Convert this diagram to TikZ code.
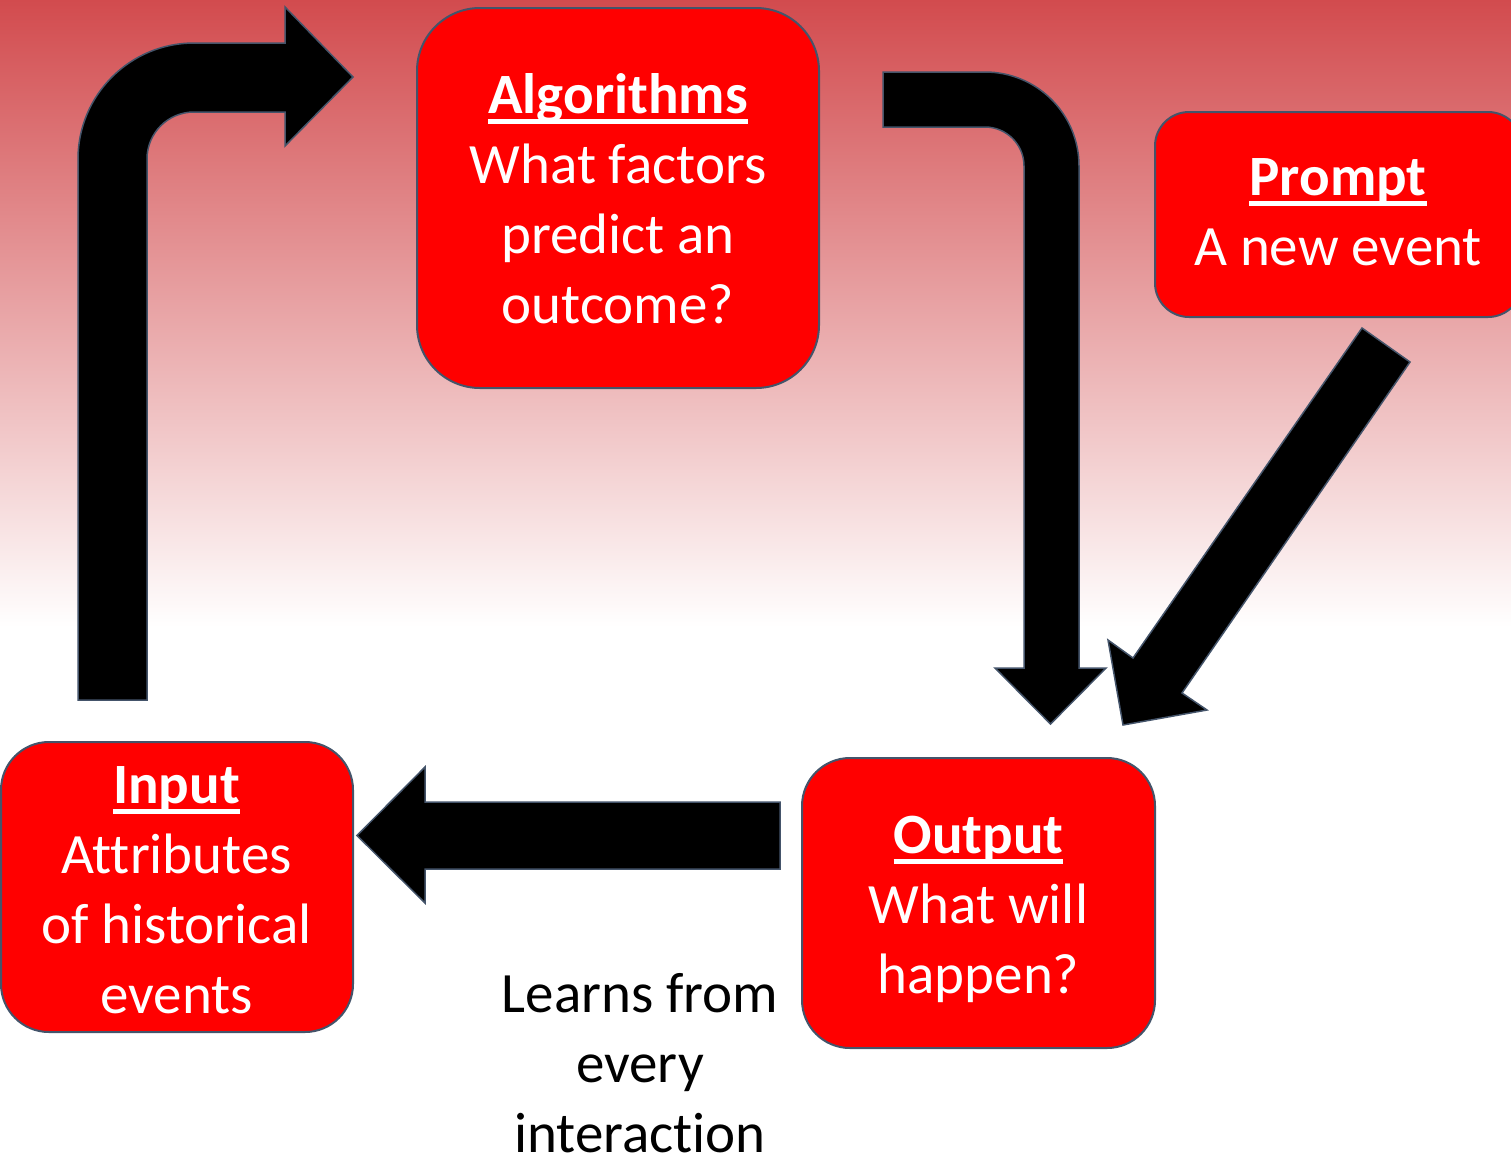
\documentclass[tikz,border=0pt]{standalone}
\usepackage{fontspec}
\setmainfont{Carlito}[Ligatures={NoCommon,NoContextual}]
\definecolor{bg}{RGB}{210,75,78}
\definecolor{edge}{RGB}{68,84,106}
\definecolor{boxred}{RGB}{255,0,0}
\newcommand\ls{\rule[-20pt]{0pt}{70pt}}
\newcommand\lastls{\rule{0pt}{50pt}}
\newcommand\uln[1]{\setbox0=\hbox{#1}\rlap{\rule[-10.5pt]{\wd0}{4.5pt}}\box0}
\tikzset{
  box/.style={draw=edge, line width=2pt, fill=boxred, inner sep=0pt, outer sep=0pt},
  blockarrow/.style={fill=black, draw=edge, line width=1.5pt, line join=miter},
  txt/.style={align=center, inner sep=0pt, outer sep=0pt, font=\fontsize{57}{70}\selectfont, text=white},
  plaintxt/.style={txt, text=black},
}
\begin{document}
\begin{tikzpicture}[x=1pt,y=-1pt]
\useasboundingbox (0,0) rectangle (1511,1160);
\fill[white] (0,0) rectangle (1511,1160);
\shade[top color=bg, bottom color=white] (0,0) rectangle (1511,627);

% bent arrow: input -> algorithms
\draw[blockarrow] (78,700) -- (78,159) .. controls (78,95) and (130,43) .. (194,43)
  -- (285,43) -- (285,7) -- (353,77) -- (285,146) -- (285,112) -- (194,112)
  .. controls (168,112) and (147,133) .. (147,159) -- (147,700) -- cycle;

% bent arrow: algorithms -> output
\draw[blockarrow] (883,72) -- (985,72) .. controls (1037,72) and (1079,114) .. (1079,166)
  -- (1079,668) -- (1106,668) -- (1050.5,724) -- (995,668) -- (1024,668) -- (1024,166)
  .. controls (1024,144.5) and (1006.5,127) .. (985,127) -- (883,127) -- cycle;

% diagonal arrow: prompt -> output
\draw[blockarrow] (1362,328) -- (1133,658) -- (1108,640) -- (1123,725) -- (1207,710)
  -- (1182,693) -- (1410,362) -- cycle;

% horizontal arrow: output -> input
\draw[blockarrow] (780,802) -- (425,802) -- (425,767) -- (357,835.5) -- (425,903)
  -- (425,869) -- (780,869) -- cycle;

% boxes
\node[box, minimum width=402pt, minimum height=380pt, rounded corners=63pt] (alg) at (618,198) {};
\node[box, minimum width=367pt, minimum height=205pt, rounded corners=34pt] (prompt) at (1338.5,214.5) {};
\node[box, minimum width=352pt, minimum height=290pt, rounded corners=48pt] (input) at (177,887) {};
\node[box, minimum width=353pt, minimum height=290pt, rounded corners=48pt] (output) at (978.5,903) {};

% texts
\node[txt, anchor=north] (algT) at (618,63) {\ls\uln{\textbf{Algorithms}}\\\ls What factors\\\ls predict an\\\lastls outcome?};
\node[txt, anchor=north] (promptT) at (1338,145) {\ls\uln{\textbf{Prompt}}\\\lastls A new event};
\node[txt, anchor=north] (inputT) at (176.5,753) {\ls\uln{\textbf{Input}}\\\ls Attributes\\\ls of historical\\\lastls events};
\node[txt, anchor=north] (outputT) at (978.5,803) {\ls\uln{\textbf{Output}}\\\ls What will\\\lastls happen?};
\node[plaintxt, anchor=north] (learnT) at (640,962) {\ls Learns from\\\ls every\\\lastls interaction};
\end{tikzpicture}
\end{document}
